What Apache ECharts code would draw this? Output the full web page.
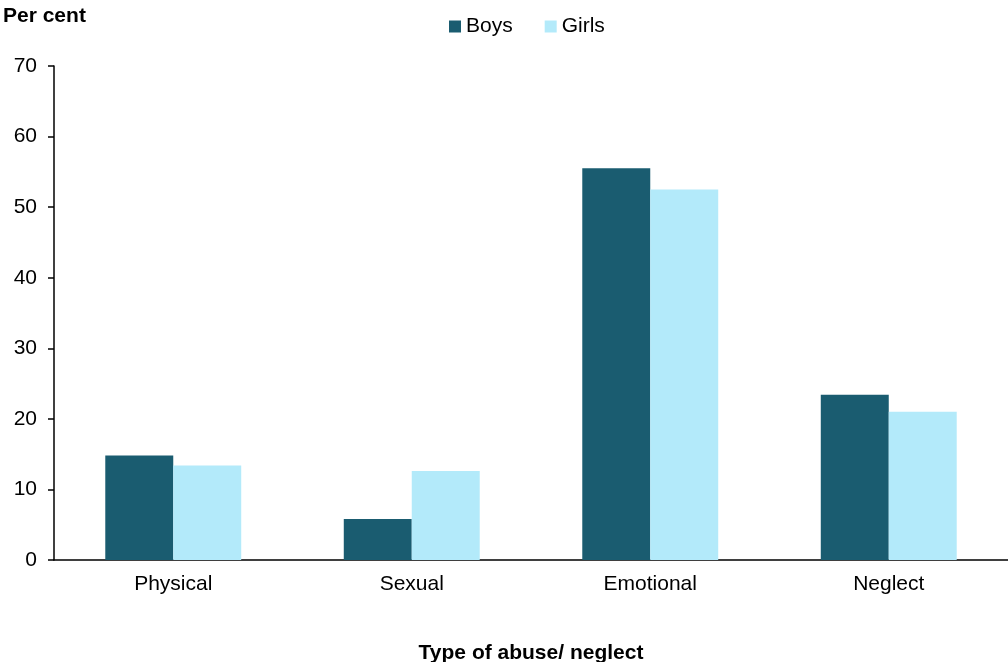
<!DOCTYPE html>
<html>
<head>
<meta charset="utf-8">
<script src="https://cdn.jsdelivr.net/npm/echarts@6/dist/echarts.min.js"></script>
<style>
  html, body { margin: 0; padding: 0; background: #fff; }
  #chart { width: 1008px; height: 662px; }
</style>
</head>
<body>
<div id="chart"></div>
<script>
// Share of children by type of abuse/neglect, by sex (per cent)
const categories = ['Physical', 'Sexual', 'Emotional', 'Neglect'];
const boys = [14.8, 5.8, 55.5, 23.4];
const girls = [13.4, 12.6, 52.5, 21.0];
const seriesNames = ['Boys', 'Girls'];
const yTicks = { min: 0, max: 70, interval: 10 };

const FONT = 'Liberation Sans, Arial, sans-serif';
const FS = 21;
const chart = echarts.init(document.getElementById('chart'), null, { renderer: 'canvas' });

chart.setOption({
  animation: false,
  textStyle: { fontFamily: FONT },
  legend: {
    top: 16,
    left: 449,
    padding: 0,
    itemWidth: 12,
    itemHeight: 12,
    itemGap: 32,
    icon: 'rect',
    textStyle: { fontSize: FS, color: '#000', fontFamily: FONT },
    data: seriesNames
  },
  graphic: [{
    type: 'text',
    left: 3,
    top: 6,
    style: { text: 'Per cent', font: 'bold ' + FS + 'px ' + FONT, fill: '#000' }
  }],
  grid: { left: 54, right: 0, top: 66, bottom: 102, containLabel: false, outerBoundsMode: 'none' },
  xAxis: {
    type: 'category',
    data: categories,
    name: 'Type of abuse/ neglect',
    nameLocation: 'middle',
    nameGap: 83,
    nameTextStyle: { fontSize: FS, fontWeight: 'bold', color: '#000', fontFamily: FONT },
    axisLine: { lineStyle: { color: '#000', width: 1.5 } },
    axisTick: { show: false },
    axisLabel: { fontSize: FS, color: '#000', margin: 14, fontFamily: FONT }
  },
  yAxis: {
    type: 'value',
    min: yTicks.min,
    max: yTicks.max,
    interval: yTicks.interval,
    axisLine: { show: true, lineStyle: { color: '#000', width: 1.5 } },
    axisTick: { show: true, length: 6, lineStyle: { color: '#000', width: 1.5 } },
    splitLine: { show: false },
    axisLabel: { fontSize: FS, color: '#000', margin: 17, fontFamily: FONT }
  },
  series: [
    {
      name: seriesNames[0],
      type: 'bar',
      data: boys,
      itemStyle: { color: '#1a5c70' },
      barGap: '0%',
      barCategoryGap: '43%'
    },
    {
      name: seriesNames[1],
      type: 'bar',
      data: girls,
      itemStyle: { color: '#b3eafa' }
    }
  ]
});
</script>
</body>
</html>
